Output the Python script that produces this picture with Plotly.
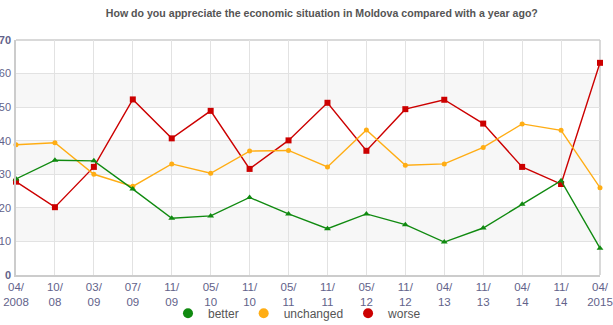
import plotly.graph_objects as go

# Survey waves (x axis)
periods = ["04/<br>2008", "10/<br>08", "03/<br>09", "07/<br>09", "11/<br>09", "05/<br>10",
           "11/<br>10", "05/<br>11", "11/<br>11", "05/<br>12", "11/<br>12", "04/<br>13",
           "11/<br>13", "04/<br>14", "11/<br>14", "04/<br>2015"]

# Share of respondents (%)
better = [28.6, 34.2, 34.0, 25.6, 16.9, 17.6, 23.1, 18.2, 13.8, 18.2, 15.0, 9.8, 14.0, 21.1, 28.1, 8.0]
unchanged = [38.8, 39.4, 30.0, 26.4, 33.1, 30.3, 36.9, 37.1, 32.2, 43.2, 32.7, 33.1, 38.0, 45.0, 43.1, 26.0]
worse = [27.8, 20.2, 32.2, 52.3, 40.7, 48.9, 31.6, 40.1, 51.3, 37.0, 49.4, 52.2, 45.1, 32.2, 27.1, 63.2]

y_ticks = [0, 10, 20, 30, 40, 50, 60, 70]
y_ticktext = ["<b>0</b>", "10", "20", "30", "40", "50", "60", "<b>70</b>"]
shaded_bands = [(10, 20), (30, 40), (50, 60)]

FONT = "Liberation Sans"
TICK_COLOR = "#62628a"

fig = go.Figure()

# (name, values, colour, marker symbol, marker size, legend rank)
series = [
    ("worse", worse, "#cc0000", "square", 6, 3),
    ("unchanged", unchanged, "#ffad14", "circle", 5, 2),
    ("better", better, "#108a10", "triangle-up", 6, 1),
]
for name, vals, color, symbol, msize, rank in series:
    fig.add_trace(go.Scatter(
        x=periods, y=vals, name=name, mode="lines+markers",
        line=dict(color=color, width=1.4),
        marker=dict(color=color, symbol=symbol, size=msize),
        showlegend=False, cliponaxis=False,
    ))
    # legend entry drawn as a plain dot
    fig.add_trace(go.Scatter(
        x=[None], y=[None], name=name, mode="markers",
        marker=dict(color=color, symbol="circle", size=10),
        legendrank=rank, showlegend=True,
    ))

shapes = []
for lo, hi in shaded_bands:
    shapes.append(dict(type="rect", xref="paper", yref="y", x0=0, x1=1, y0=lo, y1=hi,
                       fillcolor="#f7f7f7", line=dict(width=0), layer="below"))
# frame on top and right
shapes.append(dict(type="line", xref="paper", yref="paper", x0=0, x1=1, y0=1, y1=1,
                   line=dict(color="#cccccc", width=1.5), layer="below"))
shapes.append(dict(type="line", xref="paper", yref="paper", x0=1, x1=1, y0=0, y1=1,
                   line=dict(color="#cccccc", width=1.5), layer="below"))

fig.update_layout(
    width=613, height=325,
    margin=dict(l=16, r=13, t=40, b=50, autoexpand=False),
    paper_bgcolor="white", plot_bgcolor="white",
    font=dict(family=FONT, size=12, color=TICK_COLOR),
    title=dict(text="<b>How do you appreciate the economic situation in Moldova compared with a year ago?</b>",
               x=0.525, xanchor="center", y=0.972, yanchor="top",
               font=dict(family=FONT, size=10.6, color="#555555")),
    shapes=shapes,
    showlegend=True,
    legend=dict(orientation="h", x=0.482, xanchor="center", yref="container",
                y=0.036, yanchor="middle",
                font=dict(family=FONT, size=12, color="#555555"),
                itemwidth=30, traceorder="normal", tracegroupgap=0,
                bgcolor="rgba(0,0,0,0)"),
    xaxis=dict(type="category", range=[0, 15], showgrid=True, gridcolor="#e2e2e2",
               gridwidth=1, showline=True, linecolor="#cccccc", linewidth=1.5,
               ticks="", tickangle=0, automargin=False,
               tickfont=dict(size=11.5, color=TICK_COLOR), zeroline=False),
    yaxis=dict(range=[0, 70], tickvals=y_ticks, ticktext=y_ticktext, showgrid=True,
               gridcolor="#e2e2e2", gridwidth=1, showline=True, linecolor="#cccccc",
               linewidth=1.5, ticks="", ticklabelstandoff=1, automargin=False,
               tickfont=dict(size=11, color=TICK_COLOR), zeroline=False),
)

fig.write_html("out.html")
